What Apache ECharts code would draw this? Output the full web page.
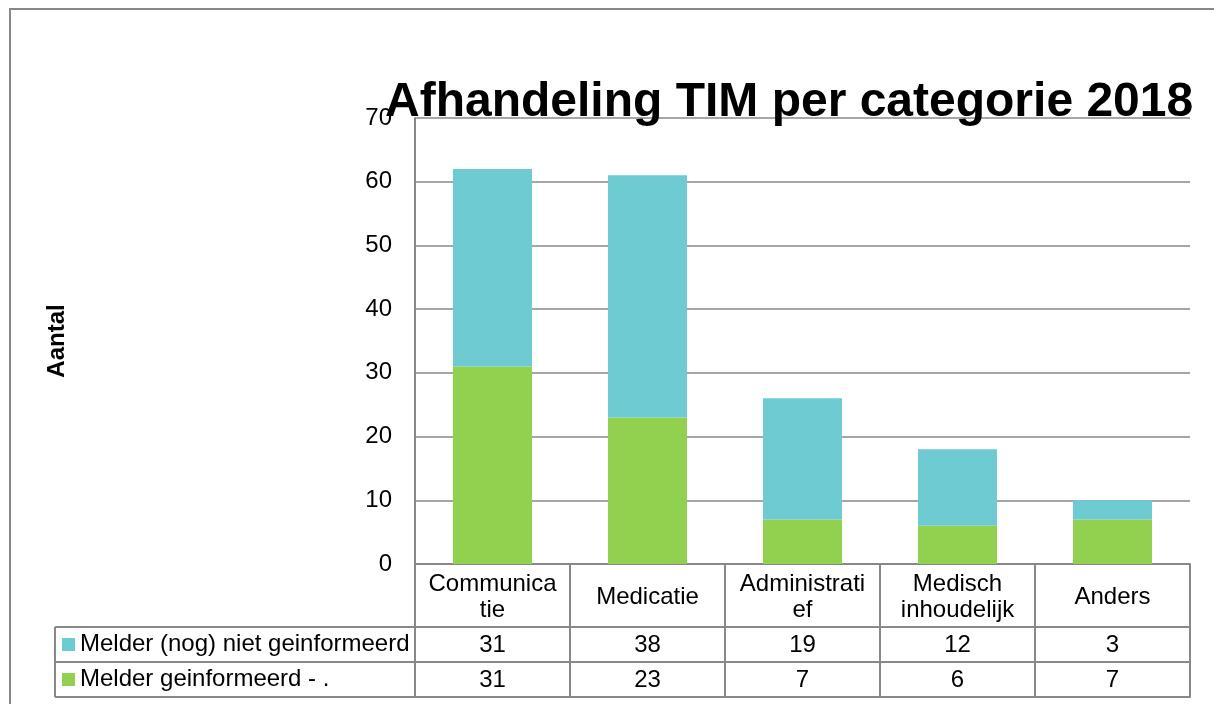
<!DOCTYPE html>
<html>
<head>
<meta charset="utf-8">
<script src="https://cdn.jsdelivr.net/npm/echarts@6/dist/echarts.min.js"></script>
<style>
  html, body { margin: 0; padding: 0; background: #fff; }
  #main { width: 1214px; height: 704px; }
</style>
</head>
<body>
<div id="main"></div>
<script>
const categories = ["Communica\ntie", "Medicatie", "Administrati\nef", "Medisch\ninhoudelijk", "Anders"];
const nietGeinformeerd = [31, 38, 19, 12, 3];
const geinformeerd = [31, 23, 7, 6, 7];
const seriesNames = ["Melder (nog) niet geinformeerd", "Melder geinformeerd - ."];
const yTicks = { min: 0, max: 70, interval: 10 };

const FONT = "'Liberation Sans', Arial, sans-serif";
const GRAY = "#888888";
const CYAN = "#6ECBD2";
const GREEN = "#92D050";

// layout
const gridLeft = 415, gridRight = 24, gridTop = 118, gridBottom = 140;
const row1 = 63, row2 = 35, row3 = 35; // table row heights
const tableLeft = 55;

const chartDom = document.getElementById("main");
const myChart = echarts.init(chartDom);

const plotBottom = 704 - gridBottom;
const r2Top = plotBottom + row1;
const r3Top = r2Top + row2;
const tableBottom = r3Top + row3;

function tableAxis(offset, values, labelMargin) {
  return {
    type: "category",
    position: "bottom",
    offset: offset,
    data: categories,
    axisLine: { show: true, lineStyle: { color: GRAY, width: 2 } },
    axisTick: { show: false },
    axisLabel: {
      show: !!values,
      interval: 0,
      margin: labelMargin,
      verticalAlign: "middle",
      color: "#000",
      fontSize: 24,
      fontFamily: FONT,
      formatter: function (v, i) { return values ? String(values[i]) : ""; },
    },
  };
}

const option = {
  animation: false,
  title: {
    text: "Afhandeling TIM per categorie 2018",
    left: 380,
    top: 74,
    z: 10,
    textStyle: { fontSize: 48, fontWeight: "bold", color: "#000", fontFamily: FONT },
  },
  legend: {
    data: seriesNames,
    orient: "vertical",
    left: 62,
    top: r2Top + 5.5,
    padding: 0,
    itemWidth: 13,
    itemHeight: 13,
    itemGap: 11,
    icon: "rect",
    textStyle: { fontSize: 24, color: "#000", fontFamily: FONT },
  },
  grid: { left: gridLeft, right: gridRight, top: gridTop, bottom: gridBottom },
  xAxis: [
    {
      type: "category",
      data: categories,
      axisLine: { lineStyle: { color: GRAY, width: 2 } },
      axisTick: { show: true, inside: false, length: row1 + row2 + row3, interval: 0, lineStyle: { color: GRAY, width: 2 } },
      axisLabel: {
        interval: 0,
        margin: row1 / 2 + 2,
        verticalAlign: "middle",
        lineHeight: 26,
        color: "#000",
        fontSize: 24,
        fontFamily: FONT,
      },
    },
    tableAxis(row1, nietGeinformeerd, row2 / 2 + 1),
    tableAxis(row1 + row2, geinformeerd, row3 / 2 + 1),
    tableAxis(row1 + row2 + row3, null, 0),
  ],
  yAxis: {
    type: "value",
    min: yTicks.min,
    max: yTicks.max,
    interval: yTicks.interval,
    name: "Aantal",
    nameLocation: "middle",
    nameRotate: 90,
    nameGap: 346,
    nameTextStyle: { fontSize: 24, fontWeight: "bold", color: "#000", fontFamily: FONT },
    axisLine: { show: true, lineStyle: { color: GRAY, width: 2 } },
    axisTick: { show: false },
    axisLabel: { margin: 23, color: "#000", fontSize: 24, fontFamily: FONT },
    splitLine: { lineStyle: { color: GRAY, width: 1.5 } },
  },
  series: [
    {
      name: seriesNames[1],
      type: "bar",
      stack: "total",
      data: geinformeerd,
      barWidth: "51%",
      itemStyle: { color: GREEN },
    },
    {
      name: seriesNames[0],
      type: "bar",
      stack: "total",
      data: nietGeinformeerd,
      barWidth: "51%",
      itemStyle: { color: CYAN },
    },
  ],
  graphic: [
    // outer frame
    { type: "polyline", shape: { points: [[10, 704], [10, 9], [1214, 9]] }, style: { stroke: GRAY, lineWidth: 2, fill: null } },
    // legend column of the data table
    { type: "line", shape: { x1: tableLeft, y1: r2Top, x2: gridLeft, y2: r2Top }, style: { stroke: GRAY, lineWidth: 2 } },
    { type: "line", shape: { x1: tableLeft, y1: r3Top, x2: gridLeft, y2: r3Top }, style: { stroke: GRAY, lineWidth: 2 } },
    { type: "line", shape: { x1: tableLeft, y1: tableBottom, x2: gridLeft, y2: tableBottom }, style: { stroke: GRAY, lineWidth: 2 } },
    { type: "line", shape: { x1: tableLeft, y1: r2Top, x2: tableLeft, y2: tableBottom }, style: { stroke: GRAY, lineWidth: 2 } },
  ],
};

myChart.setOption(option);
</script>
</body>
</html>
